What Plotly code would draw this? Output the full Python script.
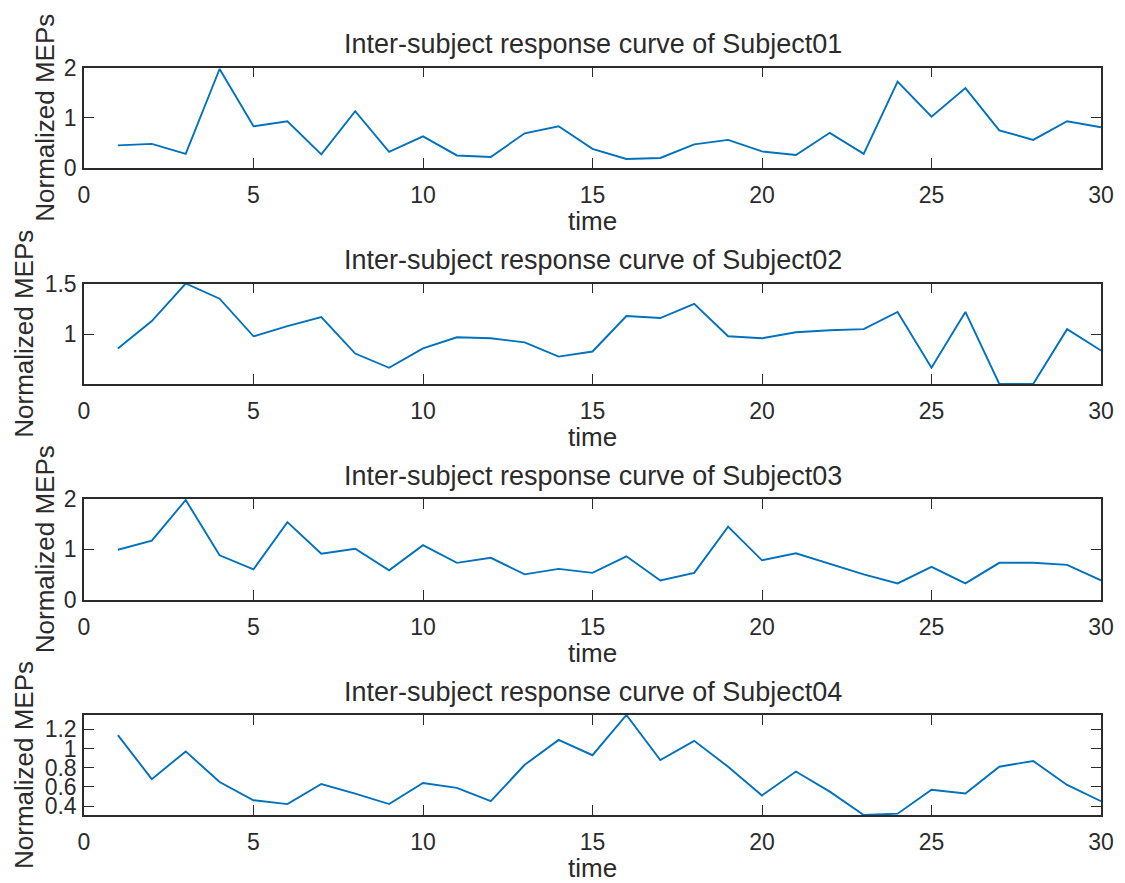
import plotly.graph_objects as go

# ---------------- data ----------------
time = list(range(1, 31))
subject01 = [0.45, 0.48, 0.28, 1.97, 0.83, 0.93, 0.27, 1.13, 0.32, 0.63,
             0.25, 0.22, 0.69, 0.83, 0.38, 0.18, 0.20, 0.47, 0.56, 0.33,
             0.26, 0.70, 0.28, 1.72, 1.02, 1.59, 0.75, 0.56, 0.93, 0.81]
subject02 = [0.86, 1.13, 1.50, 1.35, 0.98, 1.08, 1.17, 0.81, 0.67, 0.86,
             0.97, 0.96, 0.92, 0.78, 0.83, 1.18, 1.16, 1.30, 0.98, 0.96,
             1.02, 1.04, 1.05, 1.22, 0.67, 1.22, 0.51, 0.51, 1.05, 0.84]
subject03 = [0.99, 1.17, 1.98, 0.88, 0.60, 1.54, 0.91, 1.01, 0.58, 1.08,
             0.73, 0.83, 0.50, 0.61, 0.53, 0.86, 0.38, 0.53, 1.45, 0.78,
             0.92, 0.71, 0.50, 0.32, 0.65, 0.32, 0.73, 0.73, 0.69, 0.38]
subject04 = [1.14, 0.68, 0.97, 0.65, 0.46, 0.42, 0.63, 0.53, 0.42, 0.64,
             0.59, 0.45, 0.83, 1.09, 0.93, 1.35, 0.88, 1.08, 0.81, 0.51,
             0.76, 0.55, 0.306, 0.32, 0.57, 0.53, 0.81, 0.87, 0.62, 0.45]

series = [subject01, subject02, subject03, subject04]
titles = ["Inter-subject response curve of Subject01",
          "Inter-subject response curve of Subject02",
          "Inter-subject response curve of Subject03",
          "Inter-subject response curve of Subject04"]
y_ranges = [[0, 2], [0.51, 1.5], [0, 2], [0.306, 1.35]]
y_tickvals = [[0, 1, 2], [1, 1.5], [0, 1, 2], [0.4, 0.6, 0.8, 1, 1.2]]
y_ticktext = [["0", "1", "2"], ["1", "1.5"], ["0", "1", "2"],
              ["0.4", "0.6", "0.8", "1", "1.2"]]
x_tickvals = [0, 5, 10, 15, 20, 25, 30]
x_label = "time"
y_label = "Normalized MEPs"

# ---------------- layout geometry ----------------
W, H = 1125, 883
LEFT, RIGHT = 84, 1101
tops = [67.5, 283.5, 499, 715]
bottoms = [168, 384, 599.5, 815]
ylabel_cx = [45, 24, 45, 24]   # depends on tick-label width, as in MATLAB

FONT = "Liberation Sans, Arial, Helvetica, sans-serif"
TXT = "#2b2b2b"
LINE = "#0072BD"

fig = go.Figure()
layout = dict(width=W, height=H, margin=dict(l=0, r=0, t=0, b=0, autoexpand=False),
              paper_bgcolor="white", plot_bgcolor="white", showlegend=False,
              font=dict(family=FONT, color=TXT))
annotations = []
xd = [LEFT / W, RIGHT / W]
xc = (xd[0] + xd[1]) / 2

for i, (vals, ttl) in enumerate(zip(series, titles)):
    n = "" if i == 0 else str(i + 1)
    fig.add_trace(go.Scatter(x=time, y=vals, mode="lines",
                             line=dict(color=LINE, width=1.9),
                             xaxis="x" + n, yaxis="y" + n,
                             hoverinfo="x+y"))
    yd = [1 - bottoms[i] / H, 1 - tops[i] / H]
    common = dict(showgrid=False, zeroline=False, showline=True,
                  linecolor=TXT, linewidth=1.5, mirror="ticks",
                  ticks="inside", ticklen=10, tickwidth=1.3, tickcolor=TXT,
                  tickfont=dict(family=FONT, size=23, color=TXT),
                  automargin=False)
    layout["xaxis" + n] = dict(domain=xd, range=[0, 30], tickvals=x_tickvals,
                               anchor="y" + n, ticklabelstandoff=6, **common)
    layout["yaxis" + n] = dict(domain=yd, range=y_ranges[i],
                               tickvals=y_tickvals[i], ticktext=y_ticktext[i],
                               anchor="x" + n, ticklabelstandoff=1, **common)
    # title
    annotations.append(dict(text=ttl, xref="paper", yref="paper",
                            x=xc, y=1 - (tops[i] - 23.5) / H,
                            xanchor="center", yanchor="middle", showarrow=False,
                            font=dict(family=FONT, size=27, color=TXT)))
    # x label
    annotations.append(dict(text=x_label, xref="paper", yref="paper",
                            x=xc, y=1 - (bottoms[i] + 53) / H,
                            xanchor="center", yanchor="middle", showarrow=False,
                            font=dict(family=FONT, size=26, color=TXT)))
    # y label
    annotations.append(dict(text=y_label, xref="paper", yref="paper",
                            x=ylabel_cx[i] / W,
                            y=1 - ((tops[i] + bottoms[i]) / 2) / H,
                            xanchor="center", yanchor="middle", textangle=-90,
                            showarrow=False,
                            font=dict(family=FONT, size=26, color=TXT)))

layout["annotations"] = annotations
fig.update_layout(**layout)
fig.write_html(
    "out.html",
    config={"displayModeBar": False, "responsive": False},
    post_script="document.body.style.margin='0';"
                "document.body.style.overflow='hidden';",
)
